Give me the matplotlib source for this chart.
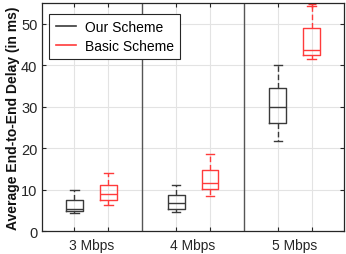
import matplotlib
matplotlib.use('Agg')
import matplotlib.pyplot as plt
from matplotlib.lines import Line2D

plt.rcParams['font.family'] = ['Liberation Sans', 'DejaVu Sans']

# data
groups = ['3 Mbps', '4 Mbps', '5 Mbps']
our_low = [4.3, 4.5, 21.7]
our_q1 = [4.8, 5.4, 26.0]
our_med = [5.3, 6.7, 29.9]
our_q3 = [7.6, 8.7, 34.5]
our_high = [10.0, 11.1, 40.0]
basic_low = [6.3, 8.4, 41.4]
basic_q1 = [7.5, 10.1, 42.4]
basic_med = [8.9, 11.6, 43.8]
basic_q3 = [11.2, 14.8, 49.0]
basic_high = [14.1, 18.7, 54.3]
basic_fliers = [[], [], [54.8]]

fig, ax = plt.subplots(figsize=(3.46, 2.55), dpi=100)
fig.subplots_adjust(left=0.122, right=0.994, top=0.984, bottom=0.09)

def stats(low, q1, med, q3, high, fl=None):
    out = []
    for i in range(len(low)):
        out.append(dict(whislo=low[i], q1=q1[i], med=med[i], q3=q3[i],
                        whishi=high[i], fliers=fl[i] if fl else []))
    return out

pos_our = [1 + 3 * i for i in range(len(groups))]
pos_basic = [2 + 3 * i for i in range(len(groups))]

for st, pos, col in [(stats(our_low, our_q1, our_med, our_q3, our_high), pos_our, '#3a3a3a'),
                     (stats(basic_low, basic_q1, basic_med, basic_q3, basic_high, basic_fliers), pos_basic, '#ff3b3b')]:
    ax.bxp(st, positions=pos, widths=0.5, showfliers=True,
           boxprops=dict(color=col, lw=1.0),
           medianprops=dict(color=col, lw=1.0),
           whiskerprops=dict(color=col, lw=1.0, ls=(0, (4, 2))),
           capprops=dict(color=col, lw=1.0),
           capwidths=0.25,
           flierprops=dict(marker='+', markeredgecolor=col, markersize=6))

for xs in [3, 6]:
    ax.axvline(xs, color='#555555', lw=1.0, zorder=1)

ax.set_xlim(0.05, 8.95)
ax.set_ylim(0, 55)
ax.set_xticks(pos_our + pos_basic)
ax.set_xticklabels([])
ax.set_xticks([1.5 + 3 * i for i in range(len(groups))], minor=True)
ax.set_xticklabels(groups, minor=True)
ax.tick_params(axis='x', which='minor', length=0, pad=5)
ax.set_yticks([0, 10, 20, 30, 40, 50])
ax.tick_params(axis='both', which='major', direction='in', length=3, top=True, right=True,
               color='#262626', labelcolor='#262626', labelsize=10.5)
ax.tick_params(axis='x', which='minor', labelcolor='#262626', labelsize=10)
ax.grid(True, which='major', color='#e3e3e3', lw=0.8)
ax.set_axisbelow(True)
for s in ax.spines.values():
    s.set_color('#262626')
    s.set_linewidth(0.9)

ax.set_ylabel('Average End-to-End Delay (in ms)', fontweight='bold', fontsize=10, color='#111111', labelpad=1)

handles = [Line2D([], [], color='#3a3a3a', lw=1.2), Line2D([], [], color='#ff3b3b', lw=1.2)]
leg = ax.legend(handles, ['Our Scheme', 'Basic Scheme'], loc='upper left',
                bbox_to_anchor=(0.01, 0.97), fontsize=10, fancybox=False,
                edgecolor='#262626', framealpha=1, handlelength=1.5, handletextpad=0.6,
                borderpad=0.45, labelspacing=0.35, borderaxespad=0.3)
leg.get_frame().set_linewidth(0.8)

fig.savefig('out.png', dpi=100)
